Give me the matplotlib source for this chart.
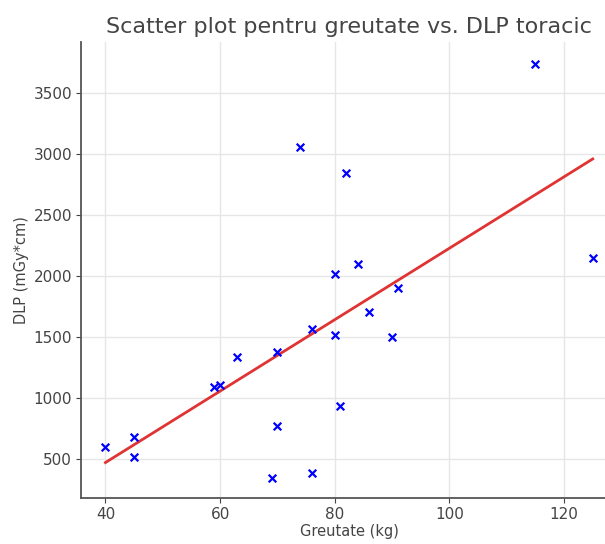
import matplotlib

matplotlib.use("Agg")
import matplotlib.pyplot as plt
import numpy as np

# weight (kg) vs. chest DLP (mGy*cm)
greutate = [40, 45, 45, 59, 60, 63, 70, 70, 69, 76, 76, 74, 82, 80, 80, 81, 84, 86, 91, 90, 115, 125]
dlp = [600, 680, 520, 1090, 1110, 1335, 1380, 770, 345, 390, 1570, 3060, 2845, 2015, 1520, 935,
       2100, 1705, 1900, 1500, 3740, 2150]

TITLE = "Scatter plot pentru greutate vs. DLP toracic"
XLABEL = "Greutate (kg)"
YLABEL = "DLP (mGy*cm)"


def main() -> None:
    x = np.asarray(greutate, dtype=float)
    y = np.asarray(dlp, dtype=float)
    slope, intercept = np.polyfit(x, y, 1)
    xs = np.array([x.min(), x.max()])

    plt.rcParams.update({"font.family": "DejaVu Sans"})
    fig = plt.figure(figsize=(6.05, 5.44), dpi=100)
    # axes run past the right edge, as in the cropped reference
    ax = fig.add_axes([0.134, 0.084, 0.886, 0.838])

    ax.scatter(x, y, marker="x", color="blue", s=30, linewidths=1.6, zorder=3)
    ax.plot(xs, slope * xs + intercept, color="#e03434", linewidth=2, zorder=2)

    ax.set_xlim(35.75, 129.25)
    ax.set_ylim(180, 3915)
    ax.set_xticks([40, 60, 80, 100, 120])
    ax.set_yticks([500, 1000, 1500, 2000, 2500, 3000, 3500])
    ax.grid(color="#e6e6e6", linewidth=1.0)
    ax.set_axisbelow(True)
    for side in ("top", "right"):
        ax.spines[side].set_visible(False)
    for side in ("left", "bottom"):
        ax.spines[side].set_color("#555555")
        ax.spines[side].set_linewidth(1.3)
    ax.tick_params(labelsize=11, colors="#444444", pad=3)

    ax.set_xlabel(XLABEL, fontsize=10.5, color="#444444", labelpad=1)
    ax.set_ylabel(YLABEL, fontsize=10.5, color="#444444", labelpad=3)
    fig.text(0.577, 0.95, TITLE, ha="center", va="center", fontsize=16, color="#444444")

    fig.savefig("out.png", dpi=100)
    plt.close(fig)


if __name__ == "__main__":
    main()
